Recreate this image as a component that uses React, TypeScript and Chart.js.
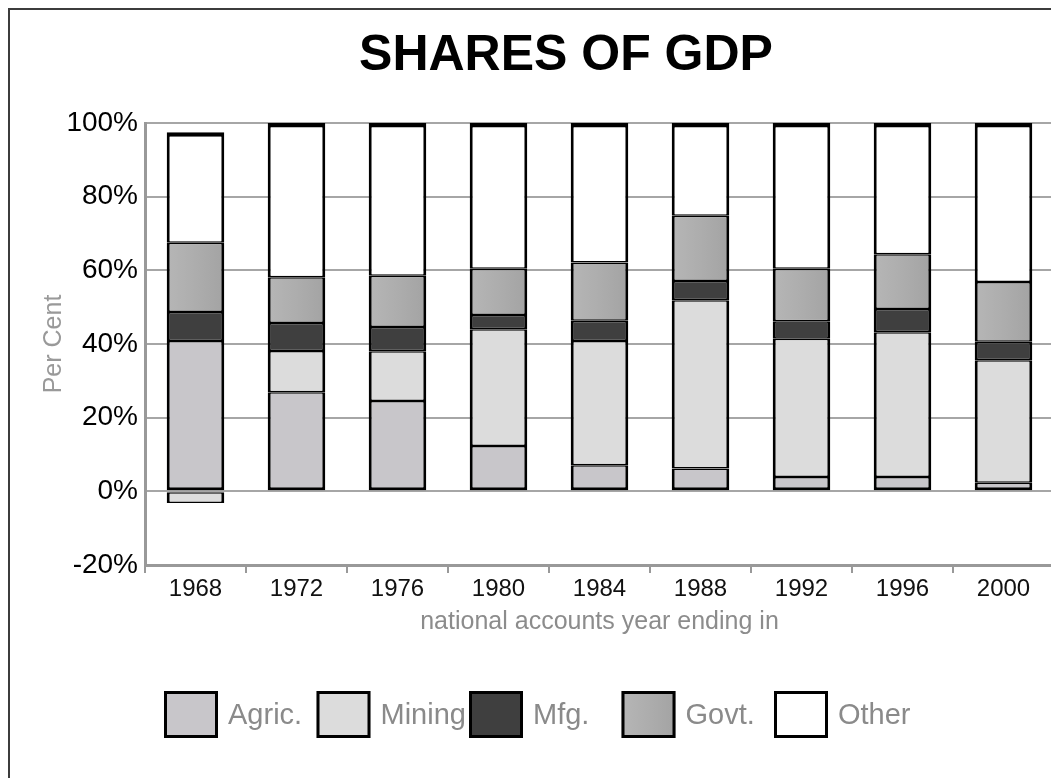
import React, { useEffect, useRef } from 'react';
import { Chart, registerables } from 'chart.js';

Chart.register(...registerables);

const FONT = '"Liberation Sans", Arial, Helvetica, sans-serif';

const years = ['1968', '1972', '1976', '1980', '1984', '1988', '1992', '1996', '2000'];
const agric = [40.8, 26.9, 24.5, 12.3, 7.1, 6.2, 3.9, 3.9, 2.3];
const mining = [-3.2, 11.2, 13.5, 31.7, 33.7, 45.7, 37.5, 39.3, 33.3];
const mfg = [7.9, 7.6, 6.6, 3.9, 5.5, 5.2, 4.8, 6.3, 5.0];
const govt = [18.8, 12.4, 13.9, 12.5, 15.8, 17.7, 14.2, 14.9, 16.2];
const other = [30.0, 41.9, 41.5, 39.6, 37.9, 25.2, 39.6, 35.6, 43.2];
const seriesNames = ['Agric.', 'Mining', 'Mfg.', 'Govt.', 'Other'];
const yTicks = [-20, 0, 20, 40, 60, 80, 100];

const CAT_PCT = 0.57;

function govtGradient(ctx: CanvasRenderingContext2D, x: number, w: number) {
  const g = ctx.createLinearGradient(x, 0, x + w, 0);
  g.addColorStop(0, '#b6b6b6');
  g.addColorStop(0.5, '#adadad');
  g.addColorStop(1, '#a3a3a3');
  return g;
}

export default function App() {
  const ref = useRef<HTMLCanvasElement>(null);

  useEffect(() => {
    const canvas = ref.current;
    if (!canvas) return;

    const govtBg = (c: any) => {
      const chart = c.chart;
      const xs = chart.scales && chart.scales.x;
      if (!xs || c.dataIndex == null || !chart.chartArea) return '#ababab';
      const cx = xs.getPixelForValue(c.dataIndex);
      const w = (xs.width / years.length) * CAT_PCT;
      return govtGradient(chart.ctx, cx - w / 2, w);
    };

    const baseBorder = { top: 1.5, bottom: 1.5, left: 3, right: 3 };

    const framePlugin = {
      id: 'plotFrame',
      beforeDatasetsDraw(chart: any) {
        const { ctx, chartArea: a } = chart;
        ctx.save();
        ctx.strokeStyle = '#a0a0a0';
        ctx.lineWidth = 2;
        ctx.beginPath();
        ctx.moveTo(a.right, a.top);
        ctx.lineTo(a.right, a.bottom);
        ctx.stroke();
        ctx.restore();
      },
    };

    const legendPlugin = {
      id: 'fixedLegend',
      afterDraw(chart: any) {
        const { ctx, chartArea: a } = chart;
        const boxW = 54;
        const boxH = 47;
        const step = 152.5;
        const x0 = a.left + 19;
        const y0 = a.bottom + 126;
        ctx.save();
        chart.data.datasets.forEach((ds: any, i: number) => {
          const x = x0 + i * step;
          let fill = ds.backgroundColor;
          if (typeof fill === 'function') fill = govtGradient(ctx, x, boxW);
          ctx.fillStyle = fill;
          ctx.fillRect(x, y0, boxW, boxH);
          ctx.strokeStyle = '#000';
          ctx.lineWidth = 3;
          ctx.strokeRect(x + 1.5, y0 + 1.5, boxW - 3, boxH - 3);
          ctx.fillStyle = '#8a8a8a';
          ctx.font = `29px ${FONT}`;
          ctx.textBaseline = 'middle';
          ctx.textAlign = 'left';
          ctx.fillText(ds.label, x + boxW + 10, y0 + boxH / 2 + 1);
        });
        ctx.restore();
      },
    };

    const chart = new Chart(canvas, {
      type: 'bar',
      data: {
        labels: years,
        datasets: [
          {
            label: seriesNames[0],
            data: agric,
            backgroundColor: '#c8c6ca',
            borderColor: '#000',
            borderWidth: { ...baseBorder, bottom: 3 },
          },
          {
            label: seriesNames[1],
            data: mining,
            backgroundColor: '#dcdcdc',
            borderColor: '#000',
            borderWidth: baseBorder,
          },
          {
            label: seriesNames[2],
            data: mfg,
            backgroundColor: '#3f3f3f',
            borderColor: '#000',
            borderWidth: baseBorder,
          },
          {
            label: seriesNames[3],
            data: govt,
            backgroundColor: govtBg as any,
            borderColor: '#000',
            borderWidth: baseBorder,
          },
          {
            label: seriesNames[4],
            data: other,
            backgroundColor: '#ffffff',
            borderColor: '#000',
            borderWidth: { ...baseBorder, top: 4.5 },
          },
        ] as any,
      },
      options: {
        responsive: false,
        animation: false,
        devicePixelRatio: 1,
        datasets: {
          bar: {
            barPercentage: 1,
            categoryPercentage: CAT_PCT,
            borderSkipped: false,
          },
        } as any,
        layout: { padding: { left: 0, right: 0, top: 0, bottom: 168.5 } },
        plugins: {
          legend: { display: false },
          tooltip: { enabled: false },
          title: {
            display: true,
            text: 'SHARES OF GDP',
            color: '#000',
            font: { family: FONT, size: 50, weight: 'bold', lineHeight: 1.2 },
            padding: { top: 16, bottom: 37 },
          },
        },
        scales: {
          x: {
            stacked: true,
            offset: true,
            afterFit: (s: any) => {
              s.height = 72.5;
            },
            grid: {
              display: true,
              drawOnChartArea: false,
              drawTicks: true,
              tickLength: 8,
              offset: true,
              color: '#999',
              lineWidth: 2,
            },
            border: { display: true, color: '#999', width: 3 },
            ticks: {
              color: '#111',
              font: { family: FONT, size: 24 },
              padding: 2,
              maxRotation: 0,
              autoSkip: false,
            },
            title: {
              display: true,
              text: 'national accounts year ending in',
              color: '#8c8c8c',
              font: { family: FONT, size: 25, lineHeight: 1.2 },
              padding: { top: 0, bottom: 0 },
            },
          },
          y: {
            stacked: true,
            min: yTicks[0],
            max: yTicks[yTicks.length - 1],
            afterFit: (s: any) => {
              s.width = 135;
            },
            afterBuildTicks: (s: any) => {
              s.ticks = yTicks.map((v) => ({ value: v }));
            },
            grid: {
              color: '#a6a6a6',
              lineWidth: 2,
              drawTicks: false,
            },
            border: { display: true, color: '#999', width: 3 },
            ticks: {
              color: '#000',
              font: { family: FONT, size: 28 },
              padding: 7,
              callback: (v: any) => `${v}%`,
            },
            title: {
              display: true,
              text: 'Per Cent',
              color: '#999',
              font: { family: FONT, size: 25, lineHeight: 1.2 },
              padding: { top: 29, bottom: 0 },
            },
          },
          yRightSpace: {
            type: 'linear',
            position: 'right',
            display: true,
            afterFit: (s: any) => {
              s.width = 68;
            },
            grid: { display: false, drawOnChartArea: false },
            border: { display: false },
            ticks: { display: false },
            title: { display: false },
          },
        },
      } as any,
      plugins: [framePlugin, legendPlugin],
    });

    return () => chart.destroy();
  }, []);

  return (
    <div style={{ width: 1051, height: 770, overflow: 'hidden' }}>
      <div
        style={{
          width: 1116,
          height: 800,
          border: '2px solid #3c3c3c',
          boxSizing: 'border-box',
          background: '#fff',
        }}
      >
        <canvas
          ref={ref}
          width={1112}
          height={796}
          style={{ display: 'block', width: 1112, height: 796 }}
        />
      </div>
    </div>
  );
}
